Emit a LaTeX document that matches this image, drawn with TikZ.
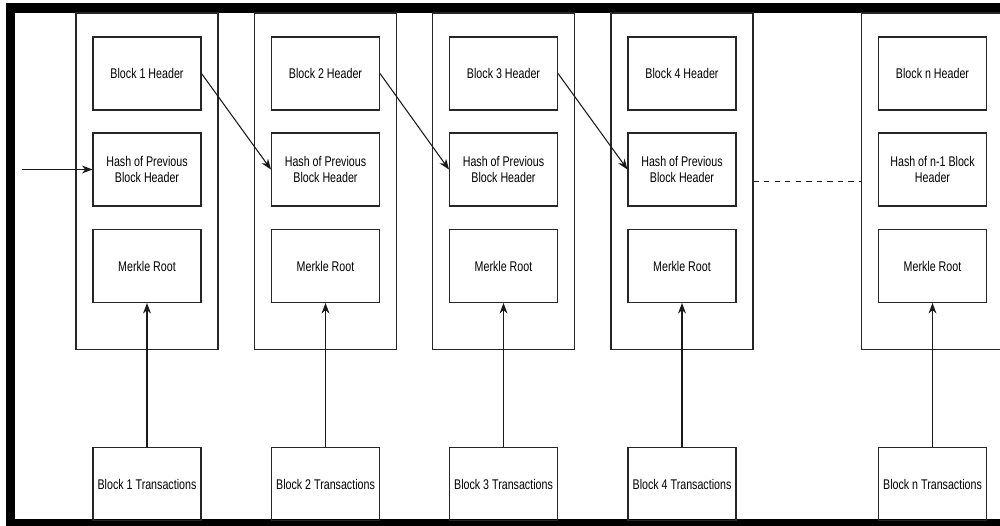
\documentclass[tikz,border=0pt]{standalone}
\usepackage{fontspec}
\setmainfont{Liberation Sans}[FakeStretch=0.76]
\usetikzlibrary{arrows.meta}
\begin{document}
\begin{tikzpicture}[x=0.02cm,y=-0.02cm,>={Stealth[length=6pt,width=4.5pt]}]
  \tikzstyle{every node}=[font=\fontsize{8}{9.6}\selectfont,align=center,inner sep=0pt]
  \tikzstyle{chain}=[draw=black!85,line width=0.6pt,minimum width=2.84cm,minimum height=6.74cm]
  \tikzstyle{part}=[draw=black!85,line width=0.6pt,minimum width=2.16cm,minimum height=1.46cm]
  \tikzstyle{link}=[black!90,line width=0.6pt]
  \useasboundingbox (0,0) rectangle (1000,526);
  \draw [line width=0.2cm] (1030,8.5) -- (10.5,8.5) -- (10.5,523.5) -- (1030,523.5);
  % block 1
  \node [chain] (c1) at (147,181.5) {};
  \node [part] (h1) at (147,73.5) {Block 1 Header};
  \node [part] (p1) at (147,169.5) {Hash of Previous\\Block Header};
  \node [part] (m1) at (147,266) {Merkle Root};
  \node [part] (t1) at (147,484) {Block 1 Transactions};
  % block 2
  \node [chain] (c2) at (325.5,181.5) {};
  \node [part] (h2) at (325.5,73.5) {Block 2 Header};
  \node [part] (p2) at (325.5,169.5) {Hash of Previous\\Block Header};
  \node [part] (m2) at (325.5,266) {Merkle Root};
  \node [part] (t2) at (325.5,484) {Block 2 Transactions};
  % block 3
  \node [chain] (c3) at (503.5,181.5) {};
  \node [part] (h3) at (503.5,73.5) {Block 3 Header};
  \node [part] (p3) at (503.5,169.5) {Hash of Previous\\Block Header};
  \node [part] (m3) at (503.5,266) {Merkle Root};
  \node [part] (t3) at (503.5,484) {Block 3 Transactions};
  % block 4
  \node [chain] (c4) at (682,181.5) {};
  \node [part] (h4) at (682,73.5) {Block 4 Header};
  \node [part] (p4) at (682,169.5) {Hash of Previous\\Block Header};
  \node [part] (m4) at (682,266) {Merkle Root};
  \node [part] (t4) at (682,484) {Block 4 Transactions};
  % block n
  \node [chain] (cn) at (932.5,181.5) {};
  \node [part] (hn) at (932.5,73.5) {Block n Header};
  \node [part] (pn) at (932.5,169.5) {Hash of n-1 Block\\Header};
  \node [part] (mn) at (932.5,266) {Merkle Root};
  \node [part] (tn) at (932.5,484) {Block n Transactions};
  \coordinate (start) at (22,169.5);
  \draw [link,->] (start) -- (p1.west);
  \draw [link,->] (h1.east) -- (p2.west);
  \draw [link,->] (h2.east) -- (p3.west);
  \draw [link,->] (h3.east) -- (p4.west);
  \draw [link,dashed] (c4.east) -- (cn.west);
  \draw [link,->] (t1) -- (m1);
  \draw [link,->] (t2) -- (m2);
  \draw [link,->] (t3) -- (m3);
  \draw [link,->] (t4) -- (m4);
  \draw [link,->] (tn) -- (mn);
\end{tikzpicture}
\end{document}
